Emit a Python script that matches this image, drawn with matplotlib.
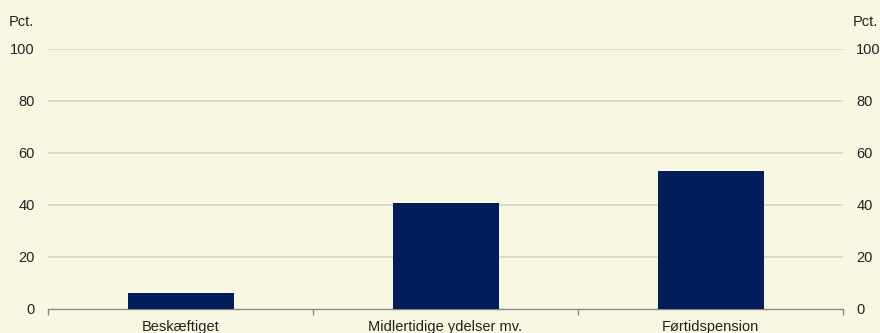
import matplotlib
matplotlib.use("Agg")
import matplotlib.pyplot as plt

categories = ["Beskæftiget", "Midlertidige ydelser mv.", "Førtidspension"]
values = [6.2, 40.8, 53.1]
yticks = [0, 20, 40, 60, 80, 100]

bg = "#F8F7E1"
bar_color = "#031C5A"
grid_color = "#D6D4C4"
fs = 10.5

plt.rcParams['font.family'] = ['Liberation Sans', 'DejaVu Sans']
fig = plt.figure(figsize=(8.8, 3.33), dpi=100, facecolor=bg)
W, H = 880, 333
ax = fig.add_axes([48 / W, 1 - 309 / H, (843 - 48) / W, (309 - 49) / H])
ax.set_facecolor(bg)

x = list(range(len(categories)))
ax.bar(x, values, width=0.4, color=bar_color, zorder=3)
ax.set_xlim(-0.5, len(categories) - 0.5)
ax.set_ylim(0, 100)
ax.set_yticks(yticks)
ax.set_yticklabels([str(v) for v in yticks], fontsize=fs, color="#222222")
ax.tick_params(axis='y', length=0, pad=9.5)
for v in yticks[1:]:
    ax.axhline(v, color=grid_color, lw=1.2, zorder=1)

ax.set_xticks(x)
ax.set_xticklabels(categories, fontsize=fs, color="#222222")
ax.tick_params(axis='x', length=0, pad=8)
ax.set_xticks([-0.5, 0.5, 1.5, 2.5], minor=True)
ax.tick_params(axis='x', which='minor', length=4, color="#888888", width=1)

for s in ['top', 'right', 'left']:
    ax.spines[s].set_visible(False)
ax.spines['bottom'].set_color("#888888")
ax.spines['bottom'].set_linewidth(1)

ax2 = ax.twinx()
ax2.set_ylim(0, 100)
ax2.set_yticks(yticks)
ax2.set_yticklabels([str(v) for v in yticks], fontsize=fs, color="#222222")
ax2.tick_params(axis='y', length=0, pad=9.5)
for s in ['top', 'right', 'left', 'bottom']:
    ax2.spines[s].set_visible(False)

fig.text(9 / W, 1 - 22 / H, "Pct.", fontsize=fs, color="#222222", va='center', ha='left')
fig.text(853 / W, 1 - 22 / H, "Pct.", fontsize=fs, color="#222222", va='center', ha='left')

fig.savefig("out.png", dpi=100, facecolor=bg)
